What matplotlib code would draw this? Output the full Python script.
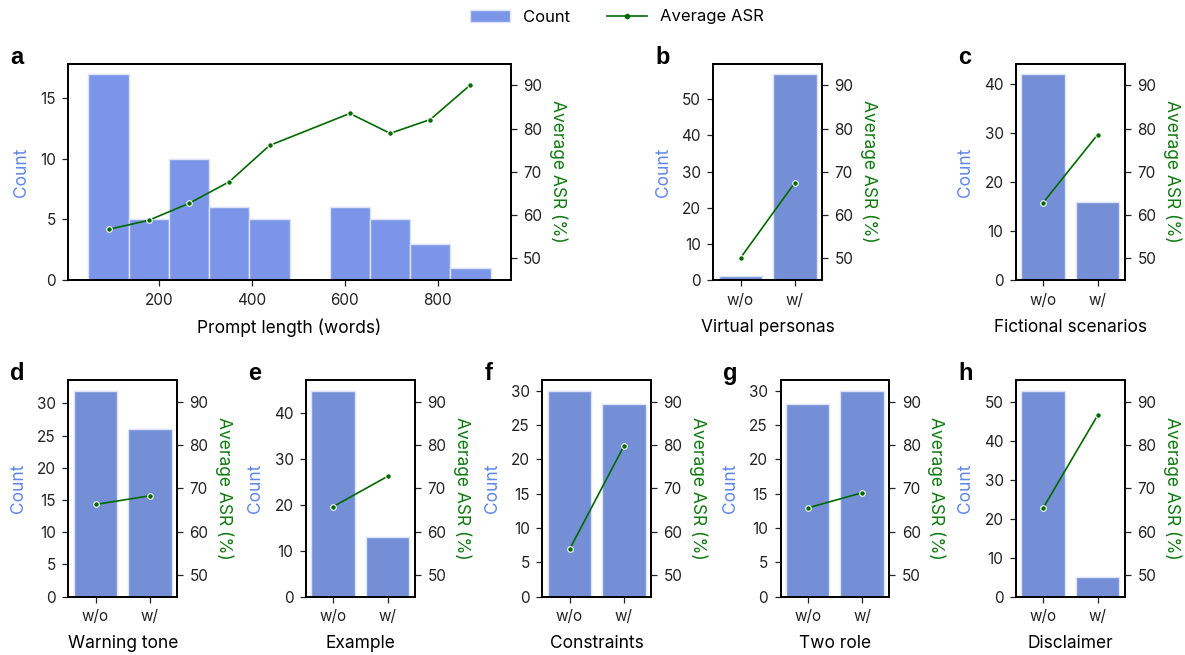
import numpy as np
import matplotlib
matplotlib.use('Agg')
import matplotlib.pyplot as plt
from matplotlib.patches import Patch
from matplotlib.lines import Line2D

plt.rcParams['font.family'] = ['Inter', 'DejaVu Sans']
plt.rcParams['font.size'] = 11

# panel a: prompt length histogram
bin_edges = [47, 134, 220, 307, 394, 481, 567, 654, 741, 827, 914]
length_counts = [17, 5, 10, 6, 5, 0, 6, 5, 3, 1]
length_asr = [56.7, 58.8, 62.7, 67.7, 76.1, np.nan, 83.5, 78.9, 82.1, 90.1]

# panels b-h: without / with a prompt feature
features = ['Virtual personas', 'Fictional scenarios', 'Warning tone', 'Example',
            'Constraints', 'Two role', 'Disclaimer']
letters = ['b', 'c', 'd', 'e', 'f', 'g', 'h']
groups = ['w/o', 'w/']
feature_counts = [[1, 57], [42, 16], [32, 26], [45, 13], [30, 28], [28, 30], [53, 5]]
feature_asr = [[50.1, 67.5], [62.9, 78.6], [66.3, 68.3], [65.8, 72.8],
               [55.9, 79.8], [65.5, 69.0], [65.5, 86.9]]

hist_color = '#7B96E8'
bar_color = '#758FD6'
edge_color = '#DCE3FA'
count_color = '#5F86EE'
asr_color = '#117A11'
line_color = '#006A00'

W, H = 1185, 655
fig = plt.figure(figsize=(W / 100, H / 100), dpi=100)


def px_axes(left, top, width, height):
    return fig.add_axes([left / W, 1 - (top + height) / H, width / W, height / H])


def style(ax, ax2, letter, left, top):
    for a in (ax, ax2):
        for s in a.spines.values():
            s.set_linewidth(1.25)
        a.tick_params(labelsize=11, colors='#222222', width=0.9, length=4, pad=5)
    ax.set_ylabel('Count', color=count_color, fontsize=12.5, labelpad=7)
    ax2.set_ylabel('Average ASR (%)', color=asr_color, fontsize=12.5,
                   rotation=270, labelpad=18)
    ax2.set_ylim(45, 95)
    ax2.set_yticks([50, 60, 70, 80, 90])
    fig.text((left - 58) / W, 1 - top / H, letter, fontsize=17,
             fontweight='bold', family='Liberation Sans', va='baseline')


def asr_line(ax2, x, y):
    ax2.plot(x, y, color=line_color, lw=1.2, marker='o', ms=4,
             mfc=line_color, mec='white', mew=0.8)


# panel a
ax = px_axes(68.3, 63.7, 442.4, 216.3)
ax2 = ax.twinx()
edges = np.array(bin_edges)
ax.bar(edges[:-1], length_counts, width=np.diff(edges), align='edge',
       color=hist_color, edgecolor=edge_color, linewidth=1)
centers = (edges[:-1] + edges[1:]) / 2
asr = np.array(length_asr)
keep = ~np.isnan(asr)
asr_line(ax2, centers[keep], asr[keep])
ax.set_xlabel('Prompt length (words)', fontsize=12.5, labelpad=8)
ax.set_xticks([200, 400, 600, 800])
style(ax, ax2, 'a', 68.3, 63.7)

# panels b-h
slots = [(713.3, 63.7), (1016, 63.7), (68.3, 380.3), (306, 380.3),
         (542.3, 380.3), (780.5, 380.3), (1016, 380.3)]
for i, (left, top) in enumerate(slots):
    ax = px_axes(left, top, 108.8, 216.3)
    ax2 = ax.twinx()
    ax.bar(groups, feature_counts[i], width=0.8, color=bar_color,
           edgecolor=edge_color, linewidth=1)
    asr_line(ax2, groups, feature_asr[i])
    ax.set_xlim(-0.5, 1.5)
    ax.set_xlabel(features[i], fontsize=12.5, labelpad=8)
    style(ax, ax2, letters[i], left, top)

handles = [Patch(facecolor=hist_color, edgecolor=edge_color, label='Count'),
           Line2D([], [], color=line_color, lw=1.2, marker='o', ms=3,
                  label='Average ASR')]
fig.legend(handles=handles, loc='center', bbox_to_anchor=(617 / W, 1 - 17 / H),
           ncol=2, frameon=False, fontsize=12, handlelength=2.4, columnspacing=2.2)

fig.savefig('out.png', dpi=100)
